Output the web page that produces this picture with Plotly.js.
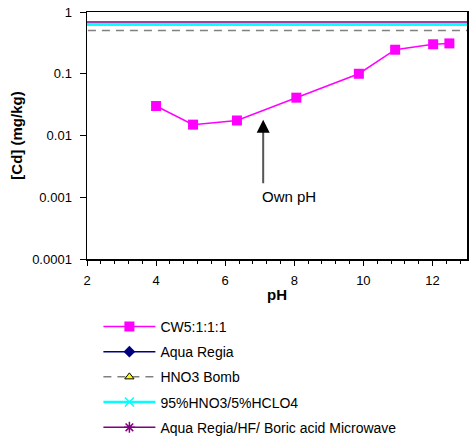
<!DOCTYPE html>
<html><head><meta charset="utf-8">
<script src="https://cdn.plot.ly/plotly-3.0.1.min.js"></script>
<style>html,body{margin:0;padding:0;background:#fff}#chart{width:473px;height:446px}</style>
</head><body><div id="chart"></div>
<script>
const phValues = [4.0, 5.07, 6.34, 8.06, 9.87, 10.92, 12.02, 12.49];
const cdValues = [0.030, 0.015, 0.0175, 0.041, 0.10, 0.245, 0.30, 0.31];
const lineX = [0, 15];
const aquaRegia = 0.63;
const hno3Bomb = 0.50;
const hno3Hclo4 = 0.63;
const microwave = 0.69;
const seriesNames = ["CW5:1:1:1", "Aqua Regia", "HNO3 Bomb", "95%HNO3/5%HCLO4", "Aqua Regia/HF/ Boric acid Microwave"];
const yTickVals = [0.0001, 0.001, 0.01, 0.1, 1];
const yTickText = ["0.0001", "0.001", "0.01", "0.1", "1"];
const arrowPh = 7.1, arrowTip = 0.018, arrowTail = 0.0016;

const traces = [
  {x: phValues, y: cdValues, name: seriesNames[0], mode: 'lines+markers', legendgroup: 'a',
   line: {color: '#ff00ff', width: 1.5}, marker: {symbol: 'square', size: 10, color: '#ff00ff'}},
  {x: lineX, y: [aquaRegia, aquaRegia], name: seriesNames[1], mode: 'lines+markers', legendgroup: 'b',
   line: {color: '#000080', width: 1.5}, marker: {symbol: 'diamond', size: 9, color: '#000080'}},
  {x: lineX, y: [hno3Bomb, hno3Bomb], name: seriesNames[2], mode: 'lines+markers', legendgroup: 'c',
   line: {color: '#808080', width: 1.5, dash: '8px,6px'}, marker: {symbol: 'triangle-up', size: 8, color: '#ffff00', line: {color: '#000', width: 1}}},
  {x: lineX, y: [hno3Hclo4, hno3Hclo4], name: seriesNames[3], mode: 'lines+markers', legendgroup: 'd',
   line: {color: '#00ffff', width: 2.5}, marker: {symbol: 'x-thin-open', size: 9, color: '#00ffff', line: {color: '#00ffff', width: 1.5}}},
  {x: lineX, y: [microwave, microwave], name: seriesNames[4], mode: 'lines+markers', legendgroup: 'e',
   line: {color: '#800080', width: 1.5}, marker: {symbol: 'asterisk-open', size: 9, color: '#800080', line: {color: '#800080', width: 1.5}}}
];

const layout = {
  width: 473, height: 446,
  margin: {l: 87, r: 6, t: 12, b: 187, autoexpand: false},
  paper_bgcolor: '#fff', plot_bgcolor: '#fff',
  font: {family: 'Liberation Sans, Arial, sans-serif', size: 13, color: '#000'},
  showlegend: true,
  legend: {x: 0.03, y: -0.21, xanchor: 'left', yanchor: 'top', traceorder: 'grouped', tracegroupgap: 4,
           itemwidth: 52, font: {size: 14}, bgcolor: 'rgba(0,0,0,0)'},
  xaxis: {range: [2, 13], tickvals: [2, 4, 6, 8, 10, 12], ticks: 'outside', ticklen: 5, tickcolor: '#000',
          ticklabelstandoff: 4,
          showgrid: false, zeroline: false, showline: true, linecolor: '#000', linewidth: 1.5, mirror: true,
          minor: {dtick: 0.4, tick0: 2, ticks: 'outside', ticklen: 3, tickcolor: '#000', showgrid: false},
          title: {text: '<b>pH</b>', font: {size: 15}, standoff: 2}},
  yaxis: {type: 'log', range: [-4, 0], tickvals: yTickVals, ticktext: yTickText, ticks: 'outside', ticklen: 6,
          ticklabelstandoff: 5,
          tickcolor: '#000', showgrid: false, zeroline: false, showline: true, linecolor: '#000', linewidth: 1.5, mirror: true,
          title: {text: '<b>[Cd] (mg/kg)</b>', font: {size: 15}, standoff: 6}},
  annotations: [
    {x: arrowPh, y: Math.log10(arrowTip) - 0.15, ax: arrowPh, ay: Math.log10(arrowTail), xref: 'x', yref: 'y', axref: 'x', ayref: 'y',
     text: '', showarrow: true, arrowhead: 0, arrowwidth: 2, arrowcolor: '#555555'},
    {x: arrowPh, y: Math.log10(arrowTip), ax: 0, ay: 10, xref: 'x', yref: 'y',
     text: '', showarrow: true, arrowhead: 2, arrowsize: 1.3, arrowwidth: 2, arrowcolor: '#000000'},
    {x: arrowPh - 0.08, y: Math.log10(arrowTail), xref: 'x', yref: 'y', text: 'Own pH', showarrow: false,
     xanchor: 'left', yanchor: 'top', yshift: -1, font: {size: 15}}
  ]
};
Plotly.newPlot('chart', traces, layout, {staticPlot: true, displayModeBar: false});
</script></body></html>
